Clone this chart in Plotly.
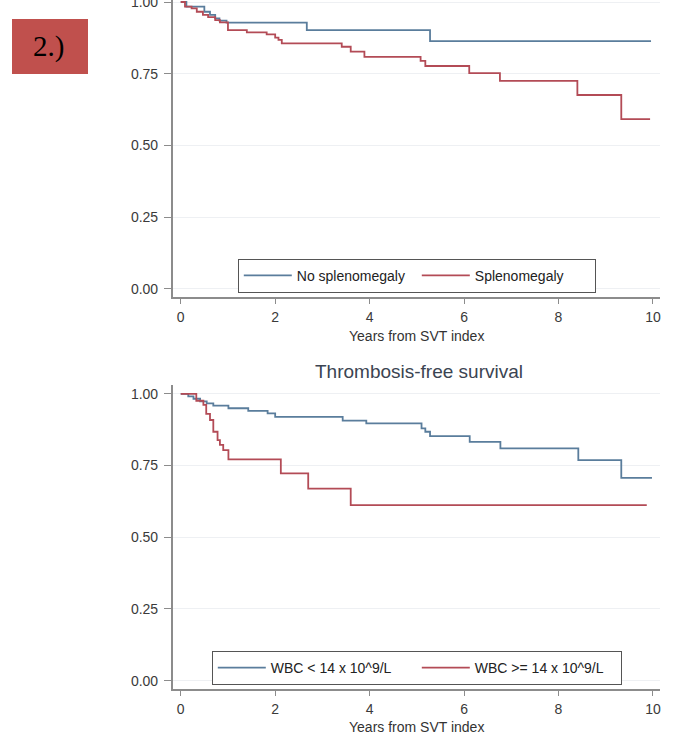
import plotly.graph_objects as go

W, H = 673, 743

# ---- Data ----
# Top panel
no_spl_years = [0, 0.12, 0.50, 0.62, 0.73, 0.82, 0.97, 2.67, 5.28, 9.96]
no_spl_surv = [1.0, 0.984, 0.966, 0.955, 0.943, 0.935, 0.928, 0.902, 0.864, 0.864]
spl_years = [0, 0.09, 0.23, 0.34, 0.47, 0.58, 0.73, 0.83, 1.00, 1.40, 1.82, 2.00,
             2.07, 2.14, 3.41, 3.60, 3.89, 5.08, 5.18, 6.11, 6.76, 8.40, 9.33, 9.94]
spl_surv = [1.0, 0.984, 0.978, 0.966, 0.955, 0.947, 0.937, 0.929, 0.902, 0.894, 0.887, 0.876,
            0.868, 0.856, 0.844, 0.827, 0.809, 0.795, 0.777, 0.752, 0.725, 0.676, 0.592, 0.592]

# Bottom panel: Thrombosis-free survival
wbc_lo_years = [0, 0.16, 0.27, 0.41, 0.55, 0.69, 1.01, 1.43, 1.84, 2.00, 3.43, 3.93,
                5.10, 5.18, 5.28, 6.12, 6.77, 8.42, 9.33, 9.98]
wbc_lo_surv = [1.0, 0.991, 0.983, 0.974, 0.967, 0.959, 0.950, 0.941, 0.932, 0.920, 0.907, 0.897,
               0.880, 0.868, 0.853, 0.833, 0.810, 0.769, 0.707, 0.707]
wbc_hi_years = [0, 0.33, 0.48, 0.54, 0.62, 0.69, 0.78, 0.83, 0.90, 1.01, 2.12, 2.70, 3.60, 9.87]
wbc_hi_surv = [1.0, 0.976, 0.962, 0.930, 0.909, 0.868, 0.839, 0.822, 0.804, 0.772, 0.723,
               0.670, 0.612, 0.612]

top_names = ["No splenomegaly", "Splenomegaly"]
bottom_names = ["WBC < 14 x 10^9/L", "WBC >= 14 x 10^9/L"]
x_ticks = [0, 2, 4, 6, 8, 10]
y_ticks = [0, 0.25, 0.5, 0.75, 1.0]
panel_title = "Thrombosis-free survival"
x_title = "Years from SVT index"
badge_text = "2.)"

BLUE = "#5a7d9c"
RED = "#b34b56"
FONT = "Liberation Sans, Arial, sans-serif"

fig = go.Figure()
fig.add_trace(go.Scatter(x=no_spl_years, y=no_spl_surv, name=top_names[0], mode="lines",
                         line=dict(color=BLUE, width=1.8, shape="hv"), xaxis="x", yaxis="y",
                         legend="legend"))
fig.add_trace(go.Scatter(x=spl_years, y=spl_surv, name=top_names[1], mode="lines",
                         line=dict(color=RED, width=1.8, shape="hv"), xaxis="x", yaxis="y",
                         legend="legend"))
fig.add_trace(go.Scatter(x=wbc_lo_years, y=wbc_lo_surv, name=bottom_names[0], mode="lines",
                         line=dict(color=BLUE, width=1.8, shape="hv"), xaxis="x2", yaxis="y2",
                         legend="legend2"))
fig.add_trace(go.Scatter(x=wbc_hi_years, y=wbc_hi_surv, name=bottom_names[1], mode="lines",
                         line=dict(color=RED, width=1.8, shape="hv"), xaxis="x2", yaxis="y2",
                         legend="legend2"))

xdom = [172.7 / W, 660 / W]
xcommon = dict(domain=xdom, range=[-0.17, 10.15], tickmode="array", tickvals=x_ticks,
               ticks="outside", ticklen=5, tickcolor="#8c8c8c", tickwidth=1.2,
               showline=True, linecolor="#8c8c8c", linewidth=1.5, showgrid=False,
               zeroline=False, ticklabelstandoff=1,
               tickfont=dict(family=FONT, size=14, color="#3a3a3a"))
ycommon = dict(tickmode="array", tickvals=y_ticks, tickformat=".2f", ticks="outside",
               ticklen=7, tickcolor="#8c8c8c", tickwidth=1.2, showline=True,
               linecolor="#8c8c8c", linewidth=1.5, showgrid=True, gridcolor="#eef0f3",
               gridwidth=1, zeroline=False, ticklabelstandoff=3, ticklabeloverflow="allow",
               tickfont=dict(family=FONT, size=14, color="#3a3a3a"))

fig.update_layout(
    width=W, height=H, template="none",
    paper_bgcolor="white", plot_bgcolor="white",
    margin=dict(l=0, r=0, t=0, b=0),
    xaxis=dict(anchor="y", **xcommon),
    yaxis=dict(anchor="x", domain=[(H - 297) / H, 1.0], range=[-0.028, 1.007], **ycommon),
    xaxis2=dict(anchor="y2", **xcommon),
    yaxis2=dict(anchor="x2", domain=[(H - 689.3) / H, (H - 385) / H], range=[-0.030, 1.031],
                **ycommon),
    legend=dict(orientation="h", x=416.8 / W, xanchor="center", y=(H - 292.7) / H,
                yanchor="bottom", bordercolor="#555555", borderwidth=1, bgcolor="white",
                font=dict(family=FONT, size=14, color="#222222"), entrywidth=115,
                itemwidth=48),
    legend2=dict(orientation="h", x=416.8 / W, xanchor="center", y=(H - 685) / H,
                 yanchor="bottom", bordercolor="#555555", borderwidth=1, bgcolor="white",
                 font=dict(family=FONT, size=14, color="#222222"), entrywidth=141,
                 itemwidth=48),
    showlegend=True,
)

# Red badge
fig.add_shape(type="rect", xref="paper", yref="paper", x0=12 / W, x1=88 / W,
              y0=(H - 74) / H, y1=(H - 19) / H, fillcolor="#c0504d", line=dict(width=0),
              layer="below")
fig.add_annotation(text=badge_text, xref="paper", yref="paper", x=48 / W, y=(H - 47) / H,
                   xanchor="center", yanchor="middle", showarrow=False,
                   font=dict(family="Liberation Serif, Times New Roman, serif",
                             size=29, color="black"))
# Panel title
fig.add_annotation(text=panel_title, xref="paper", yref="paper", x=418.5 / W, y=(H - 372) / H,
                   xanchor="center", yanchor="middle", showarrow=False,
                   font=dict(family=FONT, size=19, color="#3b4452"))
# Axis titles
for ty in [336, 727]:
    fig.add_annotation(text=x_title, xref="paper", yref="paper", x=416.5 / W, y=(H - ty) / H,
                       xanchor="center", yanchor="middle", showarrow=False,
                       font=dict(family=FONT, size=14, color="#333333"))

fig.write_html("out.html", config={"displayModeBar": False},
               post_script="document.body.style.margin='0px';document.body.style.padding='0px';")
